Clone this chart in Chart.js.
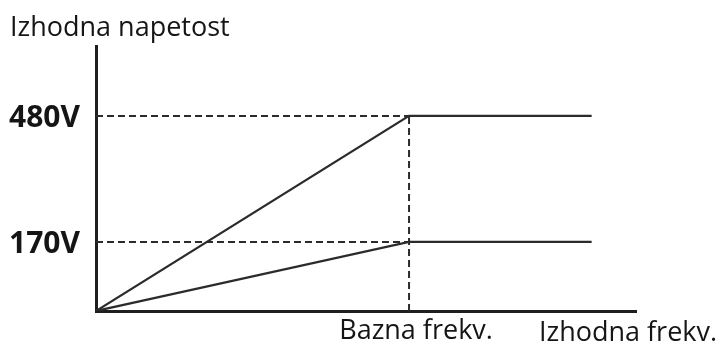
<!DOCTYPE html>
<html>
<head>
<meta charset="utf-8">
<script src="https://cdn.jsdelivr.net/npm/chart.js@4.4.1/dist/chart.umd.min.js"></script>
<style>
  html, body { margin: 0; padding: 0; background: #fff; }
  #wrap { width: 721px; height: 345px; position: relative; }
</style>
</head>
<body>
<div id="wrap"><canvas id="vfChart"></canvas></div>
<script>
// V/f curve: voltage rises linearly up to the base frequency, then stays flat
var freqPoints = [0, 60, 95];          // origin, base frequency, end of drawn range
var highVoltage = [0, 480, 480];
var lowVoltage = [0, 170, 170];
var baseFreq = 60;
var voltageTicks = [170, 480];
var voltageTickLabels = ['170V', '480V'];
var freqTickLabels = ['Bazna frekv.'];
var yAxisTitle = 'Izhodna napetost';
var xAxisTitle = 'Izhodna frekv.';

var lineColor = '#2b2b2b';
var textColor = '#151515';

function toPoints(xs, ys) {
    return xs.map(function (x, i) { return { x: x, y: ys[i] }; });
}

// dashed guides from the axes to the corner points
var guideDatasets = [];
voltageTicks.forEach(function (v) {
    guideDatasets.push({ data: [{ x: 0, y: v }, { x: baseFreq, y: v }] });
});
guideDatasets.push({ data: [{ x: baseFreq, y: 0 }, { x: baseFreq, y: Math.max.apply(null, voltageTicks) }] });
guideDatasets.forEach(function (d) {
    d.borderColor = lineColor;
    d.borderWidth = 2;
    d.borderDash = [7, 4];
    d.pointRadius = 0;
    d.showLine = true;
});

// axis titles drawn as plain text next to the axis ends
var axisTitles = {
    id: 'axisTitles',
    afterDraw: function (chart) {
        var ctx = chart.ctx;
        ctx.save();
        ctx.fillStyle = textColor;
        ctx.font = '27px "Open Sans"';
        ctx.textBaseline = 'alphabetic';
        ctx.textAlign = 'left';
        ctx.fillText(yAxisTitle, 10, 36);
        ctx.textAlign = 'center';
        ctx.fillText(xAxisTitle, chart.chartArea.right - 8, 341);
        ctx.restore();
    }
};

var ctx = document.getElementById('vfChart').getContext('2d');
var vfChart = new Chart(ctx, {
    type: 'scatter',
    data: {
        datasets: guideDatasets.concat([
            {
                data: toPoints(freqPoints, highVoltage),
                borderColor: lineColor,
                borderWidth: 2.2,
                pointRadius: 0,
                showLine: true
            },
            {
                data: toPoints(freqPoints, lowVoltage),
                borderColor: lineColor,
                borderWidth: 2.2,
                pointRadius: 0,
                showLine: true
            }
        ])
    },
    options: {
        responsive: true,
        maintainAspectRatio: false,
        animation: false,
        layout: { padding: { top: 46, right: 85, left: 0, bottom: 0 } },
        plugins: {
            legend: { display: false },
            tooltip: { enabled: false }
        },
        scales: {
            x: {
                type: 'linear',
                min: 0,
                max: 103.5,
                afterFit: function (scale) { scale.height = 34; },
                afterBuildTicks: function (scale) {
                    scale.ticks = [{ value: baseFreq }];
                },
                grid: { display: false, drawTicks: false },
                border: { display: true, color: '#1e1e1e', width: 3 },
                ticks: {
                    padding: 4,
                    labelOffset: 7,
                    color: textColor,
                    font: { family: 'Open Sans', size: 27 },
                    callback: function (value, index) { return freqTickLabels[index]; }
                }
            },
            y: {
                type: 'linear',
                min: 0,
                max: 652,
                afterFit: function (scale) { scale.width = 96; },
                afterBuildTicks: function (scale) {
                    scale.ticks = voltageTicks.map(function (v) { return { value: v }; });
                },
                grid: { display: false, drawTicks: false },
                border: { display: true, color: '#1e1e1e', width: 3 },
                ticks: {
                    padding: 16,
                    labelOffset: 3,
                    color: textColor,
                    font: { family: 'Open Sans', size: 30, weight: 'bold' },
                    callback: function (value, index) { return voltageTickLabels[index]; }
                }
            }
        }
    },
    plugins: [axisTitles]
});
</script>
</body>
</html>
